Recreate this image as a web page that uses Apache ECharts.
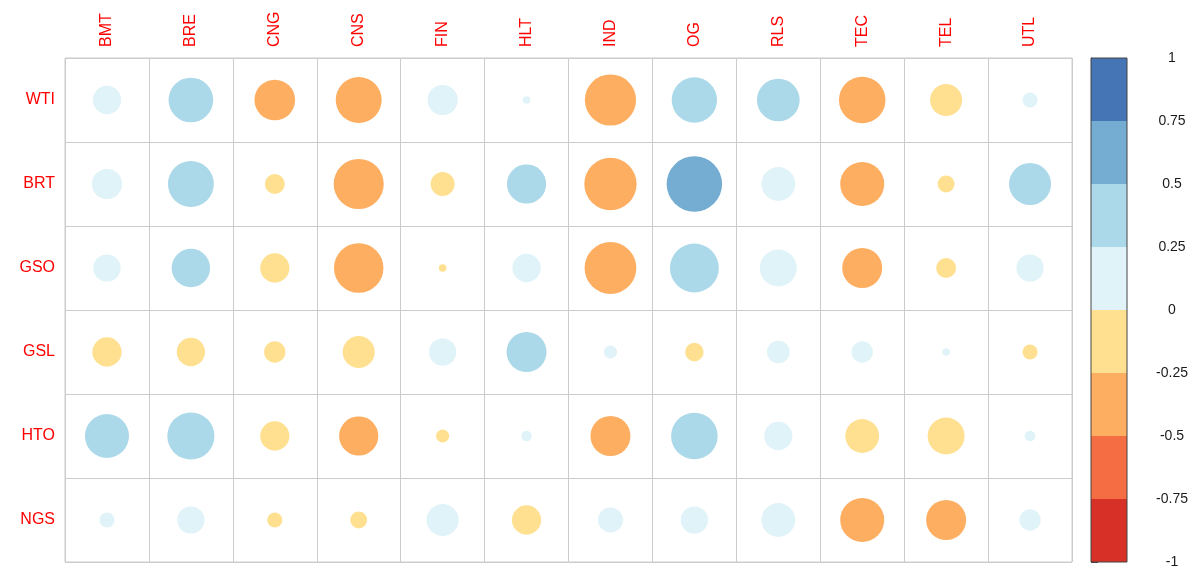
<!DOCTYPE html>
<html>
<head>
<meta charset="utf-8">
<title>Correlation matrix</title>
<script src="https://cdn.jsdelivr.net/npm/echarts@6/dist/echarts.min.js"></script>
<style>
  html, body { margin: 0; padding: 0; background: #ffffff; }
  #chart { width: 1197px; height: 574px; }
</style>
</head>
<body>
<div id="chart"></div>
<script>
// Sector columns and commodity rows
const columns = ['BMT', 'BRE', 'CNG', 'CNS', 'FIN', 'HLT', 'IND', 'OG', 'RLS', 'TEC', 'TEL', 'UTL'];
const rows = ['WTI', 'BRT', 'GSO', 'GSL', 'HTO', 'NGS'];

// Correlation coefficients, one array per row (same order as columns)
const WTI = [0.14, 0.35, -0.29, -0.37, 0.16, 0.01, -0.46, 0.36, 0.32, -0.38, -0.18, 0.04];
const BRT = [0.16, 0.37, -0.07, -0.44, -0.10, 0.27, -0.48, 0.54, 0.20, -0.34, -0.05, 0.31];
const GSO = [0.13, 0.26, -0.15, -0.43, -0.01, 0.14, -0.47, 0.42, 0.24, -0.28, -0.07, 0.13];
const GSL = [-0.15, -0.14, -0.08, -0.18, 0.13, 0.28, 0.03, -0.06, 0.09, 0.08, 0.01, -0.04];
const HTO = [0.34, 0.39, -0.15, -0.27, -0.03, 0.02, -0.28, 0.38, 0.14, -0.20, -0.24, 0.02];
const NGS = [0.04, 0.13, -0.04, -0.05, 0.18, -0.15, 0.11, 0.13, 0.20, -0.34, -0.28, 0.08];
const matrix = [WTI, BRT, GSO, GSL, HTO, NGS];

// Colour scale: bin edges and RdYlBu colours (from -1 up to 1)
const binEdges = [-1, -0.75, -0.5, -0.25, 0, 0.25, 0.5, 0.75, 1];
const binColors = ['#D73027', '#F46D43', '#FDAE61', '#FEE090', '#E0F3F8', '#ABD9E9', '#74ADD1', '#4575B4'];
const scaleTicks = ['-1', '-0.75', '-0.5', '-0.25', '0', '0.25', '0.5', '0.75', '1'];

// Layout
const GRID = { left: 65, top: 58, width: 1007, height: 504 };
const CELL = GRID.width / columns.length;
const BAR = { left: 1091, top: 58, width: 36, height: 504 };

const cells = [];
matrix.forEach((vals, r) => vals.forEach((v, c) => cells.push([c, r, v])));

const bins = [];
for (let i = 0; i < binColors.length; i++) bins.push([binEdges[i], binEdges[i + 1], i]);

const chart = echarts.init(document.getElementById('chart'), null, { renderer: 'canvas' });

chart.setOption({
  backgroundColor: '#ffffff',
  animation: false,
  grid: [
    Object.assign({ show: true, borderColor: '#cccccc', borderWidth: 1, containLabel: false }, GRID),
    Object.assign({ show: false, containLabel: false }, BAR)
  ],
  xAxis: [
    {
      gridIndex: 0,
      type: 'category',
      data: columns,
      position: 'top',
      boundaryGap: true,
      axisLine: { show: false },
      axisTick: { show: false },
      splitLine: { show: true, lineStyle: { color: '#cccccc', width: 1 } },
      axisLabel: {
        rotate: -90,
        margin: 11,
        color: '#FF0000',
        fontSize: 16,
        fontFamily: 'Liberation Sans, Arial, sans-serif',
        interval: 0
      }
    },
    {
      gridIndex: 1,
      type: 'value',
      min: 0,
      max: 1,
      show: false
    }
  ],
  yAxis: [
    {
      gridIndex: 0,
      type: 'category',
      data: rows,
      inverse: true,
      boundaryGap: true,
      axisLine: { show: false },
      axisTick: { show: false },
      splitLine: { show: true, lineStyle: { color: '#cccccc', width: 1 } },
      axisLabel: {
        margin: 10,
        color: '#FF0000',
        fontSize: 16,
        fontFamily: 'Liberation Sans, Arial, sans-serif',
        interval: 0
      }
    },
    {
      gridIndex: 1,
      type: 'value',
      min: -1,
      max: 1,
      interval: 0.25,
      position: 'right',
      axisLine: { show: true, lineStyle: { color: '#444444', width: 1 } },
      axisTick: { show: true, inside: false, length: 7, lineStyle: { color: '#444444', width: 1 } },
      splitLine: { show: false },
      axisLabel: {
        margin: 45,
        align: 'center',
        color: '#1a1a1a',
        fontSize: 14,
        fontFamily: 'Liberation Sans, Arial, sans-serif',
        formatter: (v) => {
          const i = binEdges.findIndex((e) => Math.abs(e - v) < 1e-9);
          return i >= 0 ? scaleTicks[i] : '';
        }
      }
    }
  ],
  visualMap: {
    show: false,
    type: 'piecewise',
    seriesIndex: 0,
    dimension: 2,
    pieces: bins.map((b) => ({ gte: b[0], lt: b[1] === 1 ? 1.0001 : b[1], color: binColors[b[2]] }))
  },
  series: [
    {
      name: 'correlation',
      type: 'scatter',
      xAxisIndex: 0,
      yAxisIndex: 0,
      data: cells,
      symbol: 'circle',
      symbolSize: (v) => CELL * 0.9 * Math.sqrt(Math.abs(v[2])),
      itemStyle: { opacity: 1, borderWidth: 0 },
      emphasis: { disabled: true },
      z: 3
    },
    {
      name: 'colour scale',
      type: 'custom',
      xAxisIndex: 1,
      yAxisIndex: 1,
      data: bins,
      renderItem: (params, api) => {
        const lo = api.coord([0, api.value(0)]);
        const hi = api.coord([1, api.value(1)]);
        return {
          type: 'rect',
          shape: { x: lo[0], y: hi[1], width: hi[0] - lo[0], height: lo[1] - hi[1] },
          style: { fill: binColors[api.value(2)], stroke: null }
        };
      },
      silent: true,
      z: 2
    },
    {
      name: 'scale frame',
      type: 'custom',
      xAxisIndex: 1,
      yAxisIndex: 1,
      data: [[binEdges[0], binEdges[binEdges.length - 1]]],
      renderItem: (params, api) => {
        const lo = api.coord([0, api.value(0)]);
        const hi = api.coord([1, api.value(1)]);
        return {
          type: 'rect',
          shape: { x: lo[0], y: hi[1], width: hi[0] - lo[0], height: lo[1] - hi[1] },
          style: { fill: null, stroke: '#444444', lineWidth: 1 }
        };
      },
      silent: true,
      z: 4
    }
  ]
});
</script>
</body>
</html>
